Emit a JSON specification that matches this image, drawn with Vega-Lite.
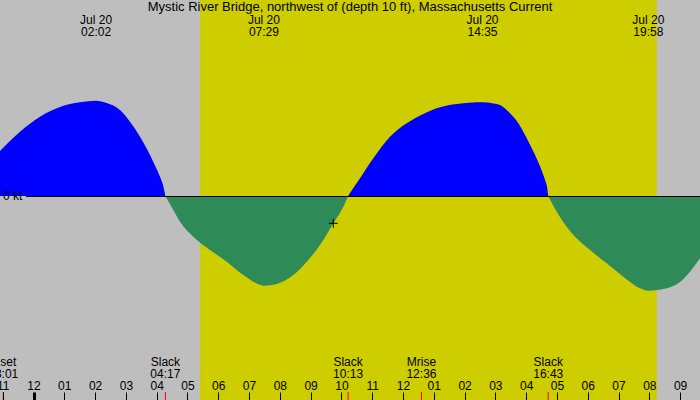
{
  "$schema": "https://vega.github.io/schema/vega-lite/v6.json",
  "width": 700,
  "height": 400,
  "autosize": {"type": "none"},
  "padding": 0,
  "background": "#BEBEBE",
  "config": {"font": "Liberation Sans", "view": {"stroke": null}},
  "title": {
    "text": "Mystic River Bridge, northwest of (depth 10 ft), Massachusetts Current",
    "fontSize": 13, "fontWeight": "normal", "color": "#000000",
    "anchor": "middle", "offset": -14, "baseline": "bottom", "dy": 13
  },
  "datasets": {
    "day": [{"t": 5.408, "t2": 20.245}],
    "curve": [
      {"t": -1.088, "v": 0.45, "seg": "a", "dir": "flood"},
      {"t": -0.438, "v": 0.643, "seg": "a", "dir": "flood"},
      {"t": 0.211, "v": 0.793, "seg": "a", "dir": "flood"},
      {"t": 0.861, "v": 0.89, "seg": "a", "dir": "flood"},
      {"t": 1.51, "v": 0.937, "seg": "a", "dir": "flood"},
      {"t": 2.033, "v": 0.953, "seg": "a", "dir": "flood"},
      {"t": 2.377, "v": 0.93, "seg": "a", "dir": "flood"},
      {"t": 2.809, "v": 0.86, "seg": "a", "dir": "flood"},
      {"t": 3.134, "v": 0.743, "seg": "a", "dir": "flood"},
      {"t": 3.459, "v": 0.593, "seg": "a", "dir": "flood"},
      {"t": 3.621, "v": 0.504, "seg": "a", "dir": "flood"},
      {"t": 3.784, "v": 0.41, "seg": "a", "dir": "flood"},
      {"t": 3.946, "v": 0.305, "seg": "a", "dir": "flood"},
      {"t": 4.108, "v": 0.193, "seg": "a", "dir": "flood"},
      {"t": 4.206, "v": 0.11, "seg": "a", "dir": "flood"},
      {"t": 4.283, "v": 0, "seg": "a", "dir": "flood"},
      {"t": 4.283, "v": 0, "seg": "b", "dir": "ebb"},
      {"t": 4.54, "v": -0.14, "seg": "b", "dir": "ebb"},
      {"t": 4.758, "v": -0.257, "seg": "b", "dir": "ebb"},
      {"t": 5.19, "v": -0.407, "seg": "b", "dir": "ebb"},
      {"t": 5.732, "v": -0.54, "seg": "b", "dir": "ebb"},
      {"t": 6.275, "v": -0.657, "seg": "b", "dir": "ebb"},
      {"t": 6.814, "v": -0.79, "seg": "b", "dir": "ebb"},
      {"t": 7.139, "v": -0.857, "seg": "b", "dir": "ebb"},
      {"t": 7.483, "v": -0.897, "seg": "b", "dir": "ebb"},
      {"t": 7.899, "v": -0.88, "seg": "b", "dir": "ebb"},
      {"t": 8.438, "v": -0.79, "seg": "b", "dir": "ebb"},
      {"t": 8.873, "v": -0.657, "seg": "b", "dir": "ebb"},
      {"t": 9.305, "v": -0.49, "seg": "b", "dir": "ebb"},
      {"t": 9.737, "v": -0.273, "seg": "b", "dir": "ebb"},
      {"t": 10.062, "v": -0.107, "seg": "b", "dir": "ebb"},
      {"t": 10.217, "v": 0, "seg": "b", "dir": "ebb"},
      {"t": 10.217, "v": 0, "seg": "c", "dir": "flood"},
      {"t": 10.604, "v": 0.177, "seg": "c", "dir": "flood"},
      {"t": 11.036, "v": 0.377, "seg": "c", "dir": "flood"},
      {"t": 11.578, "v": 0.593, "seg": "c", "dir": "flood"},
      {"t": 12.121, "v": 0.727, "seg": "c", "dir": "flood"},
      {"t": 12.66, "v": 0.82, "seg": "c", "dir": "flood"},
      {"t": 13.202, "v": 0.887, "seg": "c", "dir": "flood"},
      {"t": 13.745, "v": 0.92, "seg": "c", "dir": "flood"},
      {"t": 14.583, "v": 0.937, "seg": "c", "dir": "flood"},
      {"t": 14.934, "v": 0.925, "seg": "c", "dir": "flood"},
      {"t": 15.151, "v": 0.91, "seg": "c", "dir": "flood"},
      {"t": 15.476, "v": 0.827, "seg": "c", "dir": "flood"},
      {"t": 15.746, "v": 0.727, "seg": "c", "dir": "flood"},
      {"t": 15.963, "v": 0.61, "seg": "c", "dir": "flood"},
      {"t": 16.125, "v": 0.513, "seg": "c", "dir": "flood"},
      {"t": 16.288, "v": 0.41, "seg": "c", "dir": "flood"},
      {"t": 16.45, "v": 0.297, "seg": "c", "dir": "flood"},
      {"t": 16.613, "v": 0.16, "seg": "c", "dir": "flood"},
      {"t": 16.672, "v": 0.1, "seg": "c", "dir": "flood"},
      {"t": 16.717, "v": 0, "seg": "c", "dir": "flood"},
      {"t": 16.717, "v": 0, "seg": "d", "dir": "ebb"},
      {"t": 16.993, "v": -0.157, "seg": "d", "dir": "ebb"},
      {"t": 17.317, "v": -0.307, "seg": "d", "dir": "ebb"},
      {"t": 17.642, "v": -0.423, "seg": "d", "dir": "ebb"},
      {"t": 18.074, "v": -0.54, "seg": "d", "dir": "ebb"},
      {"t": 18.616, "v": -0.673, "seg": "d", "dir": "ebb"},
      {"t": 19.156, "v": -0.807, "seg": "d", "dir": "ebb"},
      {"t": 19.698, "v": -0.923, "seg": "d", "dir": "ebb"},
      {"t": 19.967, "v": -0.947, "seg": "d", "dir": "ebb"},
      {"t": 20.455, "v": -0.93, "seg": "d", "dir": "ebb"},
      {"t": 20.89, "v": -0.883, "seg": "d", "dir": "ebb"},
      {"t": 21.322, "v": -0.757, "seg": "d", "dir": "ebb"},
      {"t": 21.646, "v": -0.623, "seg": "d", "dir": "ebb"}
    ],
    "zero": [{"t": -0.244, "t2": 21.646, "v": -0.005}],
    "ylabel": [{"t": -1.088, "v": 0, "label": "0 kt"}],
    "peaks": [
      {"t": 2.033, "label": "Jul 20\n02:02"},
      {"t": 7.483, "label": "Jul 20\n07:29"},
      {"t": 14.583, "label": "Jul 20\n14:35"},
      {"t": 19.967, "label": "Jul 20\n19:58"}
    ],
    "events": [
      {"t": -0.983, "label": "Mset\n23:01"},
      {"t": 4.283, "label": "Slack\n04:17"},
      {"t": 10.217, "label": "Slack\n10:13"},
      {"t": 12.6, "label": "Mrise\n12:36"},
      {"t": 16.717, "label": "Slack\n16:43"}
    ],
    "now": [{"t": 9.737, "v": -0.273}]
  },
  "encoding": {
    "x": {
      "field": "t", "type": "quantitative",
      "scale": {"domain": [-1.088, 21.646], "nice": false, "zero": false},
      "axis": {
        "orient": "top", "offset": -400, "zindex": 2,
        "values": [-1,0,1,2,3,4,5,6,7,8,9,10,11,12,13,14,15,16,17,18,19,20,21],
        "labelExpr": "pad(toString(((datum.value + 11) % 12 + 12) % 12 + 1), 2, '0', 'left')",
        "domain": false, "grid": false, "title": null,
        "tickSize": 8, "tickColor": "#000000",
        "tickWidth": {"condition": {"test": "datum.value == 0", "value": 3}, "value": 1},
        "labelColor": "#000000", "labelFontSize": 12, "labelPadding": 0,
        "labelFlush": false, "labelOverlap": false, "labelBaseline": "bottom"
      }
    }
  },
  "layer": [
    {
      "data": {"name": "day"},
      "mark": {"type": "rect", "color": "#CDCD00"},
      "encoding": {"x2": {"field": "t2"}}
    },
    {
      "data": {"name": "curve"},
      "mark": {"type": "area", "interpolate": "monotone", "opacity": 1},
      "encoding": {
        "y": {"field": "v", "type": "quantitative", "stack": null,
              "scale": {"domain": [-2.04, 1.96], "nice": false, "zero": false}, "axis": null},
        "y2": {"datum": 0},
        "color": {"field": "dir", "type": "nominal",
                  "scale": {"domain": ["flood", "ebb"], "range": ["#0000FF", "#2E8B57"]}, "legend": null},
        "detail": {"field": "seg"}
      }
    },
    {
      "data": {"name": "zero"},
      "mark": {"type": "rule", "color": "#000000", "strokeWidth": 1},
      "encoding": {"x2": {"field": "t2"}, "y": {"field": "v", "type": "quantitative"}}
    },
    {
      "data": {"name": "ylabel"},
      "mark": {"type": "text", "align": "left", "baseline": "middle", "dx": 3, "fontSize": 12, "color": "#000000"},
      "encoding": {"y": {"field": "v", "type": "quantitative"}, "text": {"field": "label"}}
    },
    {
      "data": {"name": "peaks"},
      "mark": {"type": "text", "align": "center", "baseline": "top", "fontSize": 12, "lineHeight": 12, "lineBreak": "\n", "color": "#000000"},
      "encoding": {"y": {"datum": 1.815}, "text": {"field": "label"}}
    },
    {
      "data": {"name": "events"},
      "mark": {"type": "text", "align": "center", "baseline": "top", "fontSize": 12, "lineHeight": 12, "lineBreak": "\n", "color": "#000000"},
      "encoding": {"y": {"datum": -1.608}, "text": {"field": "label"}}
    },
    {
      "data": {"name": "events"},
      "mark": {"type": "rule", "color": "#FF0000", "strokeWidth": 1},
      "encoding": {"y": {"datum": -2.04}, "y2": {"datum": -1.96}}
    },
    {
      "data": {"name": "now"},
      "mark": {"type": "point", "shape": "M-1,0L1,0M0,-1L0,1", "filled": false, "color": "#000000", "strokeWidth": 1, "size": 81, "opacity": 1},
      "encoding": {"y": {"field": "v", "type": "quantitative"}}
    }
  ]
}
